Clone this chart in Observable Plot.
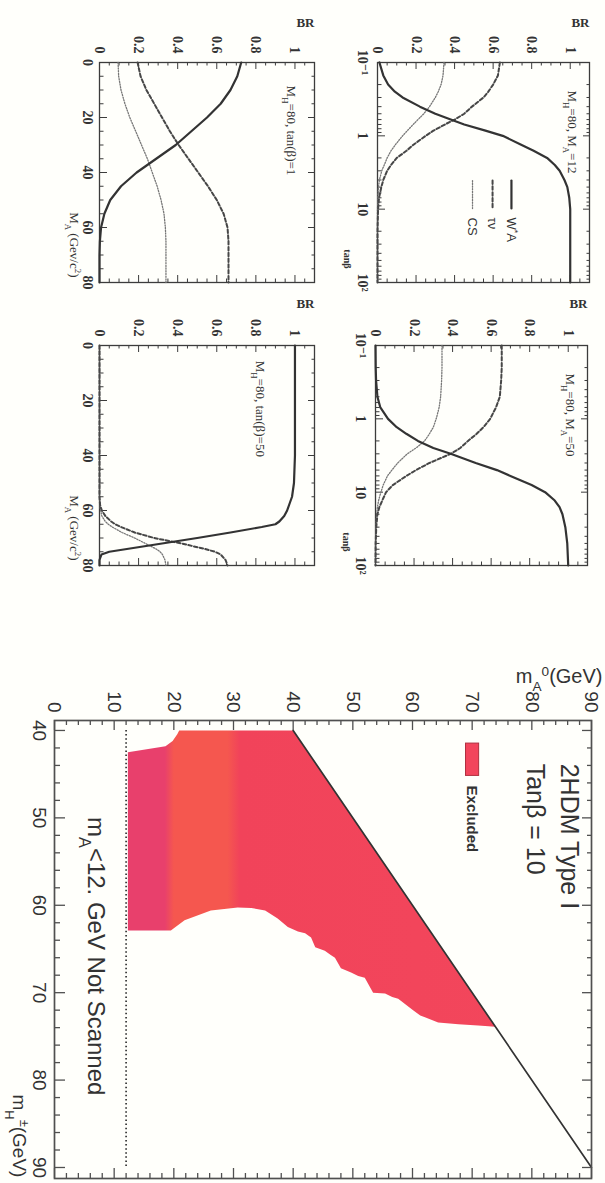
<!DOCTYPE html>
<html><head><meta charset="utf-8">
<script src="https://cdn.jsdelivr.net/npm/d3@7"></script>
<script src="https://cdn.jsdelivr.net/npm/@observablehq/plot@0.6"></script>
<style>
html,body{margin:0;padding:0;background:#fffffb;}
#page{position:relative;width:605px;height:1183px;overflow:hidden;background:#fffffb;}
#inner{position:absolute;left:0;top:0;width:1183px;height:605px;transform-origin:0 0;transform:translate(605px,0) rotate(90deg);}
.panel{position:absolute;}
</style></head><body>
<div id="page"><div id="inner"></div></div>
<script>
// ================= DATA =================
// Panel A : M_H=80, M_A=12  (BR vs tanβ)
const tanbA = [0.1,0.15,0.2,0.25,0.3,0.4,0.5,0.6,0.7,0.85,1,1.3,1.6,2,2.5,3,4,5,7,10,20,50,100];
const waA   = [0.01,0.03,0.055,0.09,0.13,0.22,0.30,0.38,0.45,0.56,0.65,0.74,0.81,0.88,0.92,0.945,0.97,0.985,0.995,1,1,1,1];
const tvA   = [0.635,0.625,0.6,0.575,0.55,0.49,0.45,0.4,0.35,0.29,0.25,0.19,0.15,0.1,0.07,0.05,0.03,0.02,0.008,0.003,0,0,0];
const csA   = [0.345,0.34,0.33,0.315,0.3,0.27,0.24,0.21,0.185,0.155,0.13,0.095,0.07,0.05,0.035,0.022,0.01,0.005,0.002,0,0,0,0];
// Panel B : M_H=80, M_A=50  (BR vs tanβ)
const tanbB = [0.1,0.2,0.3,0.5,0.7,1,1.3,1.6,2,2.5,3,4,5,6,8,10,13,16,20,30,50,100];
const waB   = [0,0.001,0.003,0.01,0.025,0.065,0.11,0.16,0.22,0.3,0.39,0.52,0.63,0.7,0.81,0.88,0.93,0.955,0.97,0.985,0.995,1];
const tvB   = [0.655,0.655,0.652,0.645,0.625,0.595,0.56,0.525,0.48,0.44,0.39,0.28,0.21,0.16,0.09,0.055,0.035,0.02,0.01,0.004,0.001,0];
const csB   = [0.345,0.345,0.343,0.338,0.33,0.315,0.3,0.28,0.255,0.21,0.165,0.115,0.085,0.062,0.04,0.028,0.016,0.01,0.006,0.002,0,0];
// Panel C : M_H=80, tanβ=1  (BR vs M_A)
const maC = [0,5,10,15,20,25,30,35,40,45,50,55,60,65,70,75,80];
const waC = [0.725,0.705,0.67,0.62,0.55,0.47,0.39,0.29,0.19,0.11,0.055,0.025,0.008,0.002,0,0,0];
const tvC = [0.195,0.21,0.24,0.28,0.32,0.36,0.405,0.455,0.505,0.555,0.6,0.635,0.655,0.66,0.66,0.66,0.66];
const csC = [0.095,0.098,0.11,0.13,0.155,0.185,0.215,0.245,0.27,0.295,0.315,0.33,0.337,0.34,0.34,0.34,0.34];
// Panel D : M_H=80, tanβ=50  (BR vs M_A)
const maD = [0,10,20,30,40,50,55,58,60,62,64,65,66,68,70,72,74,75,76,78,80];
const waD = [1,1,1,1,1,0.995,0.985,0.97,0.96,0.945,0.92,0.9,0.83,0.67,0.5,0.32,0.14,0.05,0.01,0,0];
const tvD = [0,0,0,0,0,0,0,0.003,0.012,0.03,0.06,0.08,0.11,0.18,0.28,0.42,0.54,0.59,0.62,0.645,0.655];
const csD = [0,0,0,0,0,0,0,0.002,0.006,0.012,0.03,0.045,0.065,0.115,0.18,0.235,0.29,0.31,0.322,0.335,0.34];
// Tick labels
const brTickLabels = ["0","0.2","0.4","0.6","0.8","1"];
const tanbTickLabels = ["10⁻¹","1","10","10²"];
const maTickLabels = ["0","20","40","60","80"];
// Main plot: 2HDM Type I, tanβ=10 — excluded region boundary (m_H±, m_A0)
const exclMH = [40,40.4,41.2,41.8,42.5,62.9,62.9,61.7,60.6,60.25,60.3,60.6,61.5,62.5,63.0,63.2,63.7,64.8,65.2,65.7,66.0,67.2,67.7,68.1,68.3,70.0,70.1,70.5,70.7,72.0,72.6,73.4,73.6,73.75,73.9,40];
const exclMA = [20.9,20.6,19.8,18.6,12.3,12.3,19.5,21.8,26.2,30.7,33.0,35.3,37.4,39.1,40.8,42.0,43.0,43.7,45.3,46.3,47.0,48.0,49.7,50.9,52.0,53.4,55.4,56.6,57.6,60.1,61.3,64.3,67.7,71.0,73.9,40];
const kinLineMH = [40, 90];       // m_A = m_H± kinematic limit
const kinLineMA = [40, 90];
const notScannedMA = 12;
const scanRangeMH = [40, 90];
const mhTicks = [40,50,60,70,80,90];
const maTicks = [0,10,20,30,40,50,60,70,80,90];

// ================= HELPERS =================
const SERIF = "'Liberation Serif','DejaVu Serif','Times New Roman',serif";
const SANS = "'Liberation Sans',Arial,Helvetica,'DejaVu Sans',sans-serif";
const INK = "#3c3c3c";
const inner = document.getElementById("inner");
function place(el, left, top) {
  const d = document.createElement("div");
  d.className = "panel"; d.style.left = left + "px"; d.style.top = top + "px";
  d.appendChild(el); inner.appendChild(d);
}
function rich(svg) {
  d3.select(svg).selectAll("text").each(function () {
    const s = this.textContent;
    if (!/[_^]\{/.test(s)) return;
    const parts = s.split(/([_^]\{[^}]*\})/);
    this.textContent = "";
    for (const p of parts) {
      if (!p) continue;
      const m = p.match(/^([_^])\{([^}]*)\}$/);
      const t = document.createElementNS("http://www.w3.org/2000/svg", "tspan");
      if (m) {
        t.textContent = m[2];
        t.setAttribute("font-size", "68%");
        t.setAttribute("baseline-shift", m[1] === "_" ? "sub" : "super");
      } else t.textContent = p;
      this.appendChild(t);
    }
  });
}
const brMajor = [0, 0.2, 0.4, 0.6, 0.8, 1];
const brMinor = d3.range(0, 1.1001, 0.05).filter(v => Math.abs(v * 5 - Math.round(v * 5)) > 1e-6);
const logMajor = [0.1, 1, 10, 100];
const logMinor = [0.1, 1, 10].flatMap(b => d3.range(2, 10).map(k => k * b));
const maMajor = [0, 20, 40, 60, 80];
const maMinor = d3.range(0, 81, 5).filter(v => v % 20 !== 0);

function brPanel(o) {
  const fw = o.w - o.ml - o.mr, fh = o.h - o.mt - o.mb;
  const pts = arr => o.xs.map((x, i) => ({x, y: arr[i]}));
  const tk = (vals, len, side) =>
    side === "b" ? Plot.tickX(vals, {x: d => d, insetTop: fh - len, stroke: INK}) :
    side === "t" ? Plot.tickX(vals, {x: d => d, insetBottom: fh - len, stroke: INK}) :
    side === "l" ? Plot.tickY(vals, {y: d => d, insetRight: fw - len, stroke: INK}) :
                   Plot.tickY(vals, {y: d => d, insetLeft: fw - len, stroke: INK});
  const xLab = o.xMajor.map((x, i) => ({x, label: o.xLabels[i]}));
  const yLab = brMajor.map((y, i) => ({y, label: brTickLabels[i]}));
  const marks = [
    ...["b", "t"].flatMap(s => [tk(o.xMajor, 7, s), tk(o.xMinor, 3.5, s)]),
    ...["l", "r"].flatMap(s => [tk(brMajor, 7, s), tk(brMinor, 3.5, s)]),
    Plot.frame({stroke: INK, strokeWidth: 1.3}),
    Plot.text(xLab, {x: "x", frameAnchor: "bottom", dy: o.xPad, lineAnchor: "top", text: "label",
      fontSize: 14, fontWeight: "bold", fontFamily: SERIF, fill: "#333"}),
    Plot.text(yLab, {y: "y", frameAnchor: "left", dx: -9, textAnchor: "end", text: "label",
      fontSize: 14, fontWeight: "bold", fontFamily: SERIF, fill: "#333"}),
    Plot.line(pts(o.cs), {x: "x", y: "y", stroke: "#777", strokeWidth: 1.3, strokeDasharray: "1.2,1.5"}),
    Plot.line(pts(o.tv), {x: "x", y: "y", stroke: "#474747", strokeWidth: 2, strokeDasharray: "3.5,2.3"}),
    Plot.line(pts(o.wa), {x: "x", y: "y", stroke: "#333", strokeWidth: 2.2}),
    Plot.text([o.annot], {x: o.ax, y: o.ay, text: d => d, textAnchor: "start", fontSize: 13, fontFamily: SERIF, fill: "#333"}),
    Plot.text(["BR"], {frameAnchor: "top-left", dx: o.brDx, rotate: -90, textAnchor: "end", text: d => d,
      fontSize: 13, fontWeight: "bold", fontFamily: SERIF, fill: "#333"}),
    Plot.text([o.xTitle], {frameAnchor: "bottom-right", dx: o.xtDx, dy: o.xtDy, textAnchor: "end", text: d => d,
      fontSize: o.xtSize, fontWeight: o.xtWeight, fontFamily: SERIF, fill: "#333"})
  ];
  if (o.legend) {
    const L = o.legend;
    marks.push(
      Plot.line(L.xs.map(x => ({x, y: L.ys[0]})), {x: "x", y: "y", stroke: "#333", strokeWidth: 2.2}),
      Plot.line(L.xs.map(x => ({x, y: L.ys[1]})), {x: "x", y: "y", stroke: "#474747", strokeWidth: 2, strokeDasharray: "3.5,2.3"}),
      Plot.line(L.xs.map(x => ({x, y: L.ys[2]})), {x: "x", y: "y", stroke: "#777", strokeWidth: 1.3, strokeDasharray: "1.2,1.5"}),
      Plot.text(L.labels, {x: L.tx, y: (d, i) => L.ys[i], text: d => d, textAnchor: "start", fontSize: 13, fontFamily: SANS, fill: "#333"})
    );
  }
  const svg = Plot.plot({
    width: o.w, height: o.h, marginLeft: o.ml, marginRight: o.mr, marginTop: o.mt, marginBottom: o.mb,
    x: {type: o.xType, domain: o.xDomain, axis: null},
    y: {domain: [0, 1.1], axis: null},
    style: {background: "transparent", fontFamily: SERIF, fontSize: "14px", color: "#333", overflow: "visible"},
    marks
  });
  rich(svg);
  return svg;
}

// ================= SMALL PANELS =================
place(brPanel({w: 300, h: 280, ml: 62, mr: 18, mt: 15, mb: 53,
  xType: "log", xDomain: [0.1, 100], xMajor: logMajor, xMinor: logMinor, xLabels: tanbTickLabels, xPad: 10,
  xs: tanbA, wa: waA, tv: tvA, cs: csA,
  annot: "M_{H}=80, M_{A}=12", ax: 0.24, ay: 1.01, brDx: -45,
  xTitle: "tanβ", xtDx: -14, xtDy: 34, xtSize: 10, xtWeight: "bold",
  legend: {xs: [4.07, 9.8], ys: [0.695, 0.597, 0.493], tx: 13, labels: ["W^{*}A", "τν", "CS"]}
}), 0, 0);

place(brPanel({w: 300, h: 280, ml: 55, mr: 25, mt: 17, mb: 51,
  xType: "log", xDomain: [0.1, 100], xMajor: logMajor, xMinor: logMinor, xLabels: tanbTickLabels, xPad: 10,
  xs: tanbB, wa: waB, tv: tvB, cs: csB,
  annot: "M_{H}=80, M_{A}=50", ax: 0.24, ay: 1.01, brDx: -47,
  xTitle: "tanβ", xtDx: -14, xtDy: 33, xtSize: 10, xtWeight: "bold"
}), 290, 0);

place(brPanel({w: 300, h: 290, ml: 62, mr: 18, mt: 15, mb: 60,
  xType: "linear", xDomain: [0, 80], xMajor: maMajor, xMinor: maMinor, xLabels: maTickLabels, xPad: 7,
  xs: maC, wa: waC, tv: tvC, cs: csC,
  annot: "M_{H}=80, tan(β)=1", ax: 8.4, ay: 0.98, brDx: -45,
  xTitle: "M_{A} (Gev/c^{2})", xtDx: -5, xtDy: 30, xtSize: 13, xtWeight: "normal"
}), 0, 275);

place(brPanel({w: 300, h: 290, ml: 55, mr: 25, mt: 15, mb: 60,
  xType: "linear", xDomain: [0, 80], xMajor: maMajor, xMinor: maMinor, xLabels: maTickLabels, xPad: 7,
  xs: maD, wa: waD, tv: tvD, cs: csD,
  annot: "M_{H}=80, tan(β)=50", ax: 5.5, ay: 0.82, brDx: -47,
  xTitle: "M_{A} (Gev/c^{2})", xtDx: -5, xtDy: 30, xtSize: 13, xtWeight: "normal"
}), 290, 275);

// ================= MAIN PLOT =================
(function () {
  const W = 543, H = 605, ml = 80, mr = 5, mt = 13, mb = 55;
  const fw = W - ml - mr, fh = H - mt - mb;
  const MINK = "#505050";
  const excl = exclMH.map((x, i) => ({x, y: exclMA[i]}));
  const kin = kinLineMH.map((x, i) => ({x, y: kinLineMA[i]}));
  const mhMinor = d3.range(40, 91, 2).filter(v => v % 10 !== 0);
  const maMinorM = d3.range(0, 91, 2).filter(v => v % 10 !== 0);
  const tk = (vals, len, side) =>
    side === "b" ? Plot.tickX(vals, {x: d => d, insetTop: fh - len, stroke: MINK, strokeWidth: 1.3}) :
    side === "t" ? Plot.tickX(vals, {x: d => d, insetBottom: fh - len, stroke: MINK, strokeWidth: 1.3}) :
    side === "l" ? Plot.tickY(vals, {y: d => d, insetRight: fw - len, stroke: MINK, strokeWidth: 1.3}) :
                   Plot.tickY(vals, {y: d => d, insetLeft: fw - len, stroke: MINK, strokeWidth: 1.3});
  const svg = Plot.plot({
    width: W, height: H, marginLeft: ml, marginRight: mr, marginTop: mt, marginBottom: mb,
    x: {domain: [38.86, 91.26], axis: null},
    y: {domain: [0, 90], axis: null},
    style: {background: "transparent", fontFamily: SANS, fontSize: "19px", color: "#333", overflow: "visible"},
    marks: [
      Plot.line(excl, {x: "x", y: "y", fill: "url(#exclGrad)", stroke: "none"}),
      Plot.ruleY([notScannedMA], {y: d => d, x1: scanRangeMH[0], x2: scanRangeMH[1], stroke: "#333", strokeWidth: 1.7, strokeDasharray: "1.5,2.6"}),
      Plot.line(kin, {x: "x", y: "y", stroke: "#333", strokeWidth: 1.7}),
      ...["b", "t"].flatMap(s => [tk(mhTicks, 10, s), tk(mhMinor, 5, s)]),
      ...["l", "r"].flatMap(s => [tk(maTicks, 10, s), tk(maMinorM, 5, s)]),
      Plot.frame({stroke: MINK, strokeWidth: 1.7}),
      Plot.text(mhTicks, {x: d => d, frameAnchor: "bottom", dy: 8, lineAnchor: "top", text: d => String(d), fontSize: 19, fontFamily: SANS, fill: "#333"}),
      Plot.text(maTicks, {y: d => d, frameAnchor: "left", dx: -8, textAnchor: "end", text: d => String(d), fontSize: 19, fontFamily: SANS, fill: "#333"}),
      Plot.text(["m_{A}^{0}(GeV)"], {frameAnchor: "top-left", dx: -52, dy: -11, rotate: -90, textAnchor: "end", text: d => d, fontSize: 20, fontFamily: SANS, fill: "#333"}),
      Plot.text(["m_{H}^{±}(GeV)"], {frameAnchor: "bottom-right", dx: -84, dy: 42, textAnchor: "start", text: d => d, fontSize: 19, fontFamily: SANS, fill: "#333"}),
      Plot.text(["2HDM Type I"], {x: 43.8, y: 86.3, text: d => d, textAnchor: "start", fontSize: 25, fontFamily: SANS, fill: "#333"}),
      Plot.text(["Tanβ = 10"], {x: 43.8, y: 80.6, text: d => d, textAnchor: "start", fontSize: 25, fontFamily: SANS, fill: "#333", style: "word-spacing:9px"}),
      Plot.rect([0], {x1: 41.5, x2: 45.2, y1: 68.8, y2: 71.0, fill: "#f2455c", stroke: "#b03040", strokeWidth: 1}),
      Plot.text(["Excluded"], {x: 46.3, y: 69.9, text: d => d, textAnchor: "start", fontSize: 15, fontWeight: "bold", fontFamily: SANS, fill: "#333"}),
      Plot.text(["m_{A}<12. GeV Not Scanned"], {x: 49.9, y: 6.9, text: d => d, textAnchor: "start", fontSize: 24, fontFamily: SANS, fill: "#333"})
    ]
  });
  const ys = svg.scale("y");
  const defs = d3.select(svg).insert("defs", ":first-child");
  const g = defs.append("linearGradient").attr("id", "exclGrad").attr("gradientUnits", "userSpaceOnUse")
    .attr("x1", 0).attr("x2", 0).attr("y1", ys.apply(0)).attr("y2", ys.apply(90));
  const bands = [[0, "#e8406c"], [18.5, "#e8406c"], [20, "#f5574f"], [29, "#f5574f"], [31, "#f1435a"], [90, "#f3475c"]];
  for (const [v, c] of bands) g.append("stop").attr("offset", v / 90).attr("stop-color", c);
  rich(svg);
  place(svg, 640, 0);
})();
</script></body></html>
